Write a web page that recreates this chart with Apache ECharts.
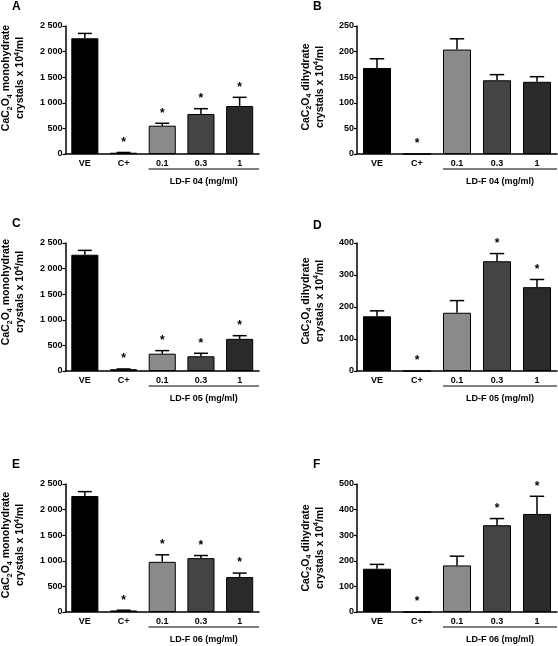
<!DOCTYPE html>
<html>
<head>
<meta charset="utf-8">
<script src="https://cdn.jsdelivr.net/npm/echarts@6/dist/echarts.min.js"></script>
<style>
  html, body { margin: 0; padding: 0; background: #fff; }
  #main { width: 558px; height: 646px; }
</style>
</head>
<body>
<div id="main"></div>
<script>
var categories = ['VE', 'C+', '0.1', '0.3', '1'];
var barColors = ['#000000', '#000000', '#8a8a8a', '#444444', '#2a2a2a'];

// A - monohydrate, LD-F 04
var monoF04 = [2260, 25, 553, 781, 937];
var monoF04Err = [95, 5, 47, 104, 170];
var monoF04Sig = [0, 1, 1, 1, 1];
// B - dihydrate, LD-F 04
var diF04 = [168, 0, 204, 144, 141];
var diF04Err = [18, 0, 21, 11, 10];
var diF04Sig = [0, 1, 0, 0, 0];
// C - monohydrate, LD-F 05
var monoF05 = [2271, 35, 338, 288, 628];
var monoF05Err = [85, 5, 60, 58, 62];
var monoF05Sig = [0, 1, 1, 1, 1];
// D - dihydrate, LD-F 05
var diF05 = [171, 0, 182, 343, 262];
var diF05Err = [17, 0, 38, 24, 24];
var diF05Sig = [0, 1, 0, 1, 1];
// E - monohydrate, LD-F 06
var monoF06 = [2266, 30, 980, 1052, 682];
var monoF06Err = [85, 5, 137, 51, 78];
var monoF06Sig = [0, 1, 1, 1, 1];
// F - dihydrate, LD-F 06
var diF06 = [169, 0, 182, 339, 383];
var diF06Err = [17, 0, 36, 26, 69];
var diF06Sig = [0, 1, 0, 1, 1];

var groupLabels = ['LD-F 04 (mg/ml)', 'LD-F 05 (mg/ml)', 'LD-F 06 (mg/ml)'];
var panelLetters = ['A', 'B', 'C', 'D', 'E', 'F'];

var FONT = '"Liberation Sans", Arial, sans-serif';

var panels = [
  { v: monoF04, e: monoF04Err, s: monoF04Sig, max: 2500, step: 500, mono: true },
  { v: diF04, e: diF04Err, s: diF04Sig, max: 250, step: 50, mono: false },
  { v: monoF05, e: monoF05Err, s: monoF05Sig, max: 2500, step: 500, mono: true },
  { v: diF05, e: diF05Err, s: diF05Sig, max: 400, step: 100, mono: false },
  { v: monoF06, e: monoF06Err, s: monoF06Sig, max: 2500, step: 500, mono: true },
  { v: diF06, e: diF06Err, s: diF06Sig, max: 500, step: 100, mono: false }
];

// grid layout (px)
var colLeft = [64, 357];
var colWidth = [195, 200];
var rowTop = [26, 243, 484];
var gridH = 128;
var nameShift = [12, 3, 15, 6, 3, 0]; // y-title offset upward

function fmt(v) {
  if (v >= 1000) {
    var r = String(v % 1000);
    while (r.length < 3) r = '0' + r;
    return Math.floor(v / 1000) + ' ' + r;
  }
  return String(v);
}

var richName = {
  n: { fontSize: 10.5, fontWeight: 'bold', fontFamily: FONT, color: '#000', lineHeight: 14 },
  sub: { fontSize: 7, fontWeight: 'bold', fontFamily: FONT, color: '#000', lineHeight: 7, verticalAlign: 'bottom' },
  sup: { fontSize: 7, fontWeight: 'bold', fontFamily: FONT, color: '#000', lineHeight: 7, verticalAlign: 'top' }
};

function renderErr(params, api) {
  var i = api.value(0), v = api.value(1), e = api.value(2), s = api.value(3);
  var base = api.coord([i, v]);
  var top = api.coord([i, v + e]);
  var band = api.size([1, 0])[0];
  var cap = band * 0.18;
  var children = [];
  if (e > 0) {
    children.push({ type: 'line', shape: { x1: base[0], y1: base[1], x2: top[0], y2: top[1] },
      style: { stroke: '#000', lineWidth: 1.5 } });
    children.push({ type: 'line', shape: { x1: top[0] - cap, y1: top[1], x2: top[0] + cap, y2: top[1] },
      style: { stroke: '#000', lineWidth: 1.5 } });
  }
  if (s) {
    children.push({ type: 'text', style: { text: '*', x: top[0], y: top[1] - 10,
      align: 'center', verticalAlign: 'middle', font: 'bold 12px ' + FONT, fill: '#000' } });
  }
  return { type: 'group', children: children };
}

var grids = [], xAxes = [], yAxes = [], series = [];
panels.forEach(function (p, k) {
  var col = k % 2, row = Math.floor(k / 2);
  grids.push({ left: colLeft[col], top: rowTop[row], width: colWidth[col], height: gridH });
  xAxes.push({
    type: 'category', gridIndex: k, data: categories,
    axisLine: { lineStyle: { color: '#000', width: 1.5 } },
    axisTick: { show: false },
    axisLabel: { color: '#000', fontWeight: 'bold', fontSize: 9, fontFamily: FONT, margin: 5 }
  });
  yAxes.push({
    type: 'value', gridIndex: k, min: 0, max: p.max, interval: p.step,
    name: p.mono
      ? '{n|CaC}{sub|2}{n|O}{sub|4}{n| monohydrate}\n{n|crystals x 10}{sup|4}{n|/ml}'
      : '{n|CaC}{sub|2}{n|O}{sub|4}{n| dihydrate}\n{n|crystals x 10}{sup|4}{n|/ml}',
    nameLocation: 'middle', nameGap: p.mono ? 38 : 30,
    nameTextStyle: { rich: richName, padding: [0, 0, 0, nameShift[k] * 2] },
    splitLine: { show: false },
    axisLine: { show: true, lineStyle: { color: '#000', width: 1.5 } },
    axisTick: { show: true, length: 3, lineStyle: { color: '#000', width: 1.2 } },
    axisLabel: { color: '#000', fontWeight: 'bold', fontSize: 9, fontFamily: FONT, margin: 3, formatter: fmt }
  });
  series.push({
    type: 'bar', xAxisIndex: k, yAxisIndex: k, barWidth: '70%',
    data: p.v.map(function (val, i) {
      return { value: val, itemStyle: { color: barColors[i], borderColor: '#000', borderWidth: 1 } };
    }),
    silent: true
  });
  series.push({
    type: 'custom', xAxisIndex: k, yAxisIndex: k, clip: false, silent: true,
    renderItem: renderErr,
    encode: { x: 0, y: 1 },
    data: p.v.map(function (val, i) { return [i, val, p.e[i], p.s[i]]; }),
    z: 5
  });
});

var chart = echarts.init(document.getElementById('main'), null, { renderer: 'canvas' });
chart.setOption({
  backgroundColor: '#fff',
  animation: false,
  grid: grids, xAxis: xAxes, yAxis: yAxes, series: series
});

// panel letters, group underline and group label
var graphics = [];
var letterPos = [[12, 1], [313, 1], [12, 218], [313, 220], [12, 459], [313, 459]];
panelLetters.forEach(function (L, k) {
  graphics.push({ type: 'text', left: letterPos[k][0], top: letterPos[k][1],
    style: { text: L, font: 'bold 12px ' + FONT, fill: '#000' } });
});
panels.forEach(function (p, k) {
  var col = k % 2, row = Math.floor(k / 2);
  var c = chart.convertToPixel({ xAxisIndex: k }, '0.1');
  var band = colWidth[col] / categories.length;
  var x1 = c - band * 0.35;
  var x2 = colLeft[col] + colWidth[col];
  var y = rowTop[row] + gridH + 15;
  graphics.push({ type: 'line', shape: { x1: x1, y1: y, x2: x2, y2: y }, style: { stroke: '#000', lineWidth: 1.2 } });
  graphics.push({ type: 'text', x: (x1 + x2) / 2, y: y + 13,
    style: { text: groupLabels[row], align: 'center', verticalAlign: 'middle', font: 'bold 9px ' + FONT, fill: '#000' } });
});
chart.setOption({ graphic: graphics });
</script>
</body>
</html>
